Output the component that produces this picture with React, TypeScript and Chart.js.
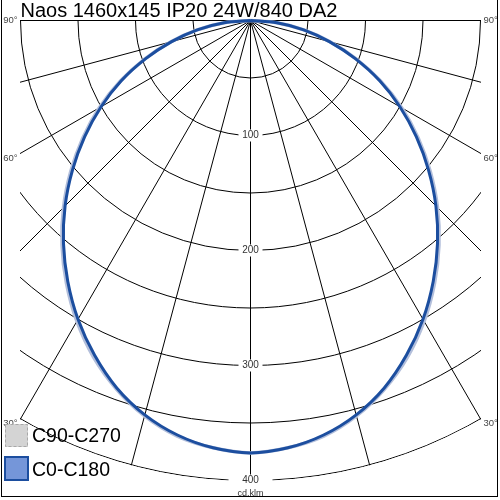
import { useEffect, useRef } from 'react';
import { Chart, registerables } from 'chart.js';
Chart.register(...registerables);

const TITLE = 'Naos 1460x145 IP20 24W/840 DA2';
const UNIT_LABEL = 'cd.klm';
const SERIES_NAMES = ['C90-C270', 'C0-C180'];

// gamma angles (deg from nadir) and luminous intensity (cd/klm)
const gammaAngles = [0, 5, 10, 15, 20, 25, 30, 35, 40, 45, 50, 55, 60, 65, 70, 75, 80, 85, 90];
const intensityC0C180 = [376, 373, 366, 355, 340, 321, 300, 277, 253, 228, 202, 176, 150, 124, 97, 71, 47, 23, 0];
const intensityC90C270 = [376, 373, 367, 356, 341, 323, 302, 279, 255, 230, 204, 178, 152, 125, 98, 72, 47, 23, 0];

const radiusTicks = [50, 100, 150, 200, 250, 300, 350, 400];
const radiusLabels = [100, 200, 300, 400];
const radialAngles = [-90, -75, -60, -45, -30, -15, 0, 15, 30, 45, 60, 75, 90];
const angleLabels = [90, 60, 30];
const GRID_HALF_WIDTH = 200; // cd/klm units
const GRID_MAX_RADIUS = 400;

const FONT = '"Liberation Sans", Arial, sans-serif';

function toPoints(vals: number[]) {
  const pts: { x: number; y: number }[] = [];
  for (let i = vals.length - 1; i >= 0; i--) {
    const t = (gammaAngles[i] * Math.PI) / 180;
    pts.push({ x: -vals[i] * Math.sin(t), y: -vals[i] * Math.cos(t) });
  }
  for (let i = 1; i < vals.length; i++) {
    const t = (gammaAngles[i] * Math.PI) / 180;
    pts.push({ x: vals[i] * Math.sin(t), y: -vals[i] * Math.cos(t) });
  }
  return pts;
}

const polarPlugin = {
  id: 'polarGrid',
  beforeDatasetsDraw(chart: any) {
    const { ctx } = chart;
    const xs = chart.scales.x;
    const ys = chart.scales.y;
    const cx = xs.getPixelForValue(0);
    const cy = ys.getPixelForValue(0);
    const k = (xs.getPixelForValue(100) - cx) / 100;
    const rMax = GRID_MAX_RADIUS * k;
    const left = xs.getPixelForValue(-GRID_HALF_WIDTH);
    const right = xs.getPixelForValue(GRID_HALF_WIDTH);

    ctx.save();
    ctx.beginPath();
    ctx.rect(left - 0.5, cy - 0.5, right - left + 1, 600);
    ctx.clip();
    ctx.beginPath();
    ctx.arc(cx, cy, rMax + 0.5, 0, Math.PI * 2);
    ctx.clip();
    ctx.strokeStyle = '#000';
    ctx.lineWidth = 1;
    radiusTicks.forEach((r) => {
      ctx.beginPath();
      ctx.arc(cx, cy, r * k, 0, Math.PI);
      ctx.stroke();
    });
    radialAngles.forEach((a) => {
      const t = (a * Math.PI) / 180;
      ctx.beginPath();
      ctx.moveTo(cx, cy);
      ctx.lineTo(cx + Math.sin(t) * rMax * 1.2, cy + Math.cos(t) * rMax * 1.2);
      ctx.stroke();
    });
    ctx.restore();

    // radius labels
    ctx.save();
    ctx.font = `10px ${FONT}`;
    ctx.textAlign = 'center';
    ctx.textBaseline = 'middle';
    radiusLabels.forEach((v) => {
      const py = cy + v * k;
      const last = v === GRID_MAX_RADIUS;
      const w = last ? 44 : 24;
      ctx.fillStyle = '#fff';
      ctx.fillRect(cx - w / 2, py - 6, w, last ? 20 : 12);
      ctx.fillStyle = '#333';
      ctx.fillText(String(v), cx, py);
    });
    ctx.font = `9px ${FONT}`;
    ctx.fillStyle = '#333';
    ctx.fillText(UNIT_LABEL, cx, cy + GRID_MAX_RADIUS * k + 13);

    // angle labels
    ctx.font = `9.5px ${FONT}`;
    ctx.fillStyle = '#444';
    angleLabels.forEach((a) => {
      const t = (a * Math.PI) / 180;
      const dx = right - cx;
      let yEnd = cy + dx / Math.tan(t);
      if (Math.hypot(dx, yEnd - cy) > rMax) yEnd = cy + rMax * Math.cos(t);
      ctx.textBaseline = a === 90 ? 'middle' : 'top';
      ctx.textAlign = 'right';
      ctx.fillText(`${a}°`, left - 3, yEnd);
      ctx.textAlign = 'left';
      ctx.fillText(`${a}°`, right + 3, yEnd);
    });
    ctx.restore();
  },
  afterDraw(chart: any) {
    const { ctx } = chart;
    ctx.save();
    // frame
    ctx.fillStyle = '#000';
    ctx.fillRect(1, 0, 1, 497);
    ctx.fillRect(497, 0, 1, 497);
    ctx.fillRect(1, 496, 497, 1);
    // title
    ctx.font = `20px ${FONT}`;
    ctx.textAlign = 'left';
    ctx.textBaseline = 'alphabetic';
    ctx.fillText(TITLE, 20.5, 17);
    // legend
    ctx.fillStyle = '#d4d4d4';
    ctx.fillRect(5, 424, 23, 23);
    ctx.setLineDash([3, 2]);
    ctx.strokeStyle = '#a8a8a8';
    ctx.lineWidth = 1;
    ctx.strokeRect(5.5, 424.5, 22, 22);
    ctx.setLineDash([]);
    ctx.fillStyle = '#7596d9';
    ctx.fillRect(5, 457, 23, 23);
    ctx.strokeStyle = '#1c4e9f';
    ctx.lineWidth = 2;
    ctx.strokeRect(5, 457, 23, 23);
    ctx.fillStyle = '#000';
    ctx.font = `19.5px ${FONT}`;
    ctx.fillText(SERIES_NAMES[0], 32, 442);
    ctx.fillText(SERIES_NAMES[1], 32, 476);
    ctx.restore();
  },
};

export default function App() {
  const ref = useRef<HTMLCanvasElement | null>(null);
  useEffect(() => {
    if (!ref.current) return;
    const chart = new Chart(ref.current, {
      type: 'scatter',
      data: {
        datasets: [
          {
            label: SERIES_NAMES[1],
            data: toPoints(intensityC0C180),
            showLine: true,
            borderColor: '#1c4e9f',
            borderWidth: 3,
            pointRadius: 0,
            tension: 0.3,
          },
          {
            label: SERIES_NAMES[0],
            data: toPoints(intensityC90C270),
            showLine: true,
            borderColor: '#b3bfdb',
            borderWidth: 3.5,
            pointRadius: 0,
            tension: 0.3,
          },
        ],
      },
      options: {
        responsive: false,
        animation: false,
        layout: { padding: 0 },
        plugins: { legend: { display: false }, tooltip: { enabled: false }, title: { display: false } },
        scales: {
          x: { type: 'linear', display: false, min: -250.5 / 1.15, max: 249.5 / 1.15 },
          y: { type: 'linear', display: false, min: 20.5 / 1.15 - 500 / 1.15, max: 20.5 / 1.15 },
        },
      },
      plugins: [polarPlugin],
    });
    return () => chart.destroy();
  }, []);
  return (
    <div style={{ position: 'absolute', left: 0, top: 0, width: 500, height: 500, background: '#fff' }}>
      <canvas ref={ref} width={500} height={500} style={{ display: 'block' }} />
    </div>
  );
}
